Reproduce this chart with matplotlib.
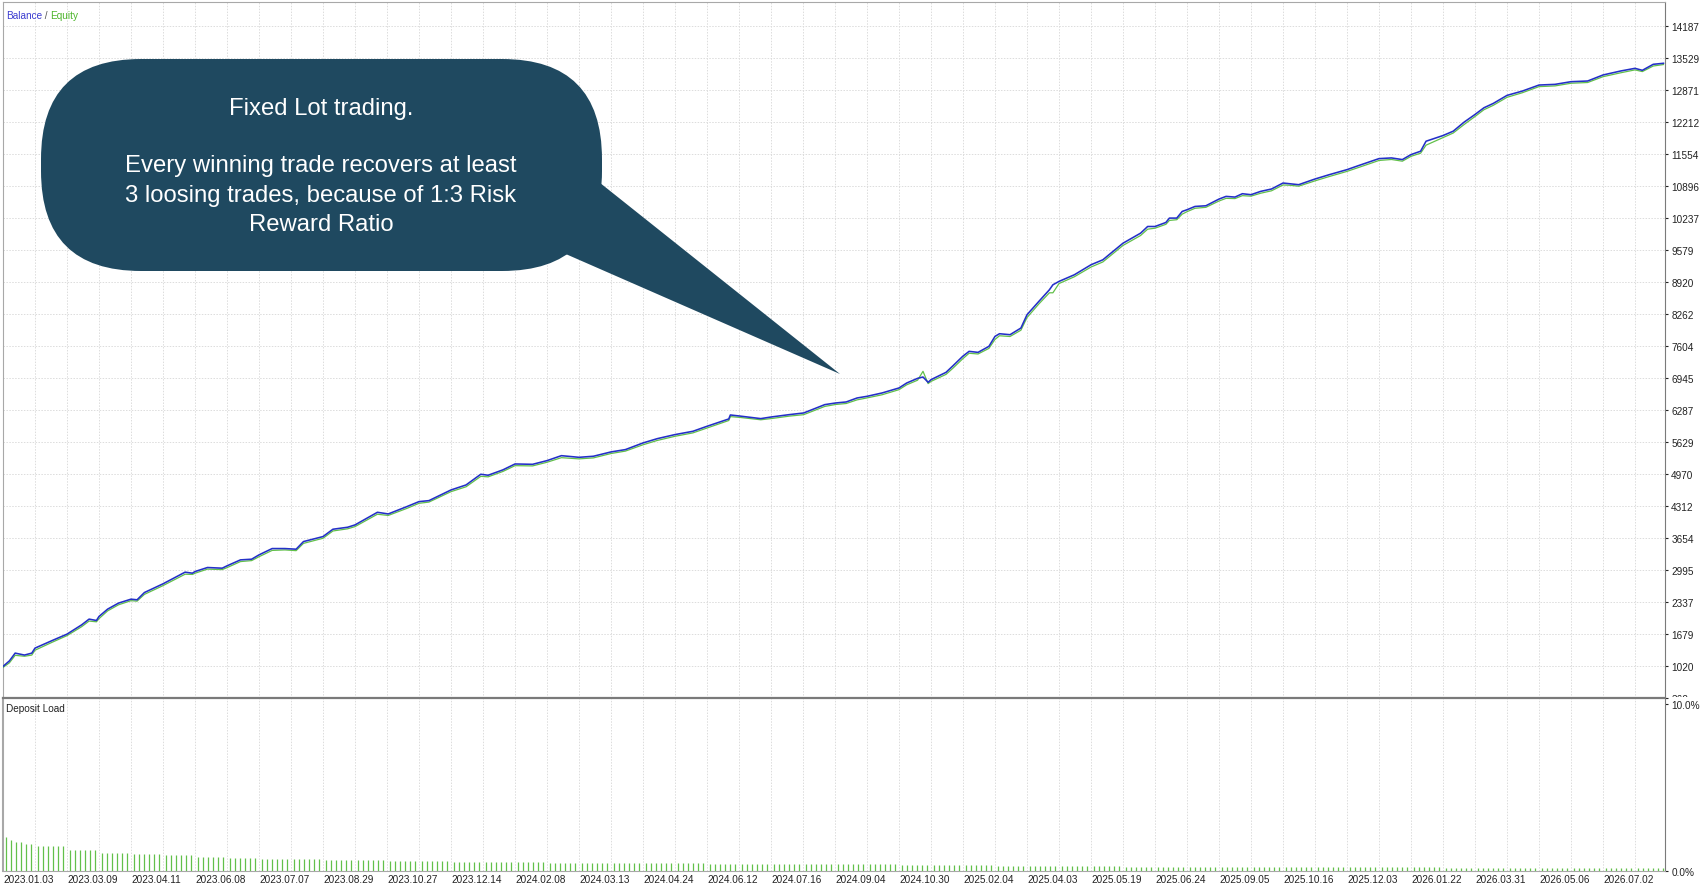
import numpy as np
import matplotlib
matplotlib.use('Agg')
import matplotlib.pyplot as plt
from matplotlib.patches import FancyBboxPatch, Polygon
from matplotlib.transforms import Bbox

plt.rcParams['font.family'] = ['Liberation Sans', 'DejaVu Sans']

# position along the x axis (1 unit = one grid column) and the curves
balance_pos = [0.00, 0.20, 0.38, 0.67, 0.90, 1.00, 1.54, 2.00, 2.46, 2.69, 2.92, 3.00, 3.27, 3.61,
               4.00, 4.19, 4.42, 5.00, 5.69, 5.92, 6.00, 6.39, 6.85, 7.00, 7.42, 7.77, 8.00, 8.41,
               8.81, 9.16, 9.39, 10.00, 10.31, 10.77, 11.00, 11.70, 12.04, 12.62, 13.00, 13.31, 13.78,
               14.00, 14.47, 14.93, 15.16, 15.62, 16.00, 16.55, 17.00, 17.45, 18.00, 18.45, 19.00,
               19.45, 20.00, 20.45, 21.00, 21.56, 22.00, 22.68, 22.73, 23.01, 23.68, 24.01, 24.57,
               25.02, 25.68, 26.02, 26.35, 26.69, 27.00, 27.47, 28.00, 28.24, 28.58, 28.75, 28.91,
               29.00, 29.47, 29.69, 29.99, 30.19, 30.47, 30.81, 31.00, 31.14, 31.47, 31.81, 32.00,
               32.37, 32.70, 32.81, 33.00, 33.48, 34.00, 34.37, 35.00, 35.55, 35.77, 36.00, 36.34,
               36.45, 36.68, 36.85, 37.00, 37.25, 37.59, 38.00, 38.22, 38.50, 38.73, 39.00, 39.30,
               39.64, 40.00, 40.20, 40.49, 41.00, 41.45, 42.00, 42.36, 43.00, 43.39, 43.73, 44.00,
               44.30, 44.47, 45.00, 45.32, 45.66, 46.00, 46.28, 46.57, 47.00, 47.48, 48.00, 48.50,
               49.00, 49.52, 50.00, 50.55, 51.00, 51.23, 51.57, 51.89]
balance = [1006, 1120, 1280, 1240, 1280, 1383, 1540, 1671, 1863, 1980, 1952, 2035, 2186, 2310,
           2391, 2378, 2528, 2707, 2947, 2926, 2960, 3043, 3029, 3077, 3200, 3214, 3303, 3433,
           3433, 3420, 3577, 3680, 3831, 3872, 3920, 4180, 4146, 4297, 4400, 4420, 4571,
           4640, 4743, 4963, 4943, 5053, 5175, 5168, 5244, 5346, 5312, 5334, 5423,
           5471, 5608, 5697, 5780, 5848, 5951, 6102, 6184, 6163, 6109, 6143, 6191,
           6225, 6397, 6431, 6452, 6534, 6568, 6637, 6740, 6842, 6938, 6966, 6856,
           6911, 7062, 7199, 7391, 7494, 7473, 7597, 7802, 7857, 7837, 7974, 8248,
           8522, 8762, 8865, 8934, 9071, 9277, 9379, 9721, 9928, 10065, 10065, 10148,
           10238, 10238, 10375, 10410, 10478, 10492, 10630, 10685, 10671, 10740, 10720, 10788,
           10837, 10960, 10947, 10926, 11043, 11133, 11236, 11319, 11463, 11477, 11443, 11546,
           11615, 11821, 11938, 12028, 12214, 12372, 12510, 12599, 12765, 12854, 12978, 12992,
           13047, 13061, 13185, 13267, 13322, 13281, 13405, 13426]
equity = [985, 1080, 1235, 1215, 1240, 1340, 1505, 1640, 1825, 1940, 1925, 1990, 2150, 2275,
          2360, 2350, 2490, 2670, 2905, 2900, 2925, 3010, 3000, 3040, 3165, 3185, 3265, 3395,
          3405, 3390, 3540, 3645, 3795, 3840, 3885, 4140, 4115, 4260, 4365, 4390, 4535,
          4605, 4705, 4920, 4910, 5020, 5140, 5135, 5210, 5305, 5280, 5300, 5390,
          5440, 5570, 5660, 5745, 5815, 5915, 6070, 6150, 6135, 6085, 6110, 6160,
          6190, 6360, 6400, 6420, 6495, 6535, 6600, 6705, 6805, 6900, 7083, 6830,
          6875, 7020, 7150, 7340, 7455, 7440, 7555, 7740, 7815, 7800, 7930, 8190,
          8470, 8700, 8700, 8890, 9030, 9230, 9335, 9675, 9880, 10010, 10030, 10110,
          10190, 10205, 10320, 10370, 10440, 10460, 10590, 10645, 10640, 10700, 10690, 10750,
          10800, 10920, 10915, 10895, 11005, 11095, 11200, 11280, 11425, 11445, 11410, 11510,
          11575, 11740, 11895, 11990, 12165, 12330, 12470, 12560, 12725, 12820, 12945, 12960,
          13015, 13030, 13150, 13230, 13290, 13255, 13370, 13400]

date_labels = ['2023.01.03', '2023.03.09', '2023.04.11', '2023.06.08', '2023.07.07', '2023.08.29',
               '2023.10.27', '2023.12.14', '2024.02.08', '2024.03.13', '2024.04.24', '2024.06.12',
               '2024.07.16', '2024.09.04', '2024.10.30', '2025.02.04', '2025.04.03', '2025.05.19',
               '2025.06.24', '2025.09.05', '2025.10.16', '2025.12.03', '2026.01.22', '2026.03.31',
               '2026.05.06', '2026.07.02']
y_ticks = [362, 1020, 1679, 2337, 2995, 3654, 4312, 4970, 5629, 6287, 6945, 7604, 8262, 8920,
           9579, 10237, 10896, 11554, 12212, 12871, 13529, 14187]

# deposit load in %, bars of the first grid column one by one, then one level per column
load_unit0 = [2.05, 1.85, 1.72, 1.72, 1.62, 1.62]
load_per_unit = [1.50, 1.25, 1.10, 1.03, 0.95, 0.85, 0.78, 0.73, 0.72, 0.68, 0.66, 0.63,
                 0.60, 0.57, 0.55, 0.53, 0.51, 0.50, 0.48, 0.47, 0.46, 0.45, 0.44, 0.43, 0.42,
                 0.41, 0.40, 0.38, 0.37, 0.35, 0.33, 0.31, 0.29, 0.28, 0.27, 0.26, 0.25, 0.25,
                 0.24, 0.24, 0.23, 0.23, 0.22, 0.22, 0.21, 0.21, 0.20, 0.20, 0.20, 0.19, 0.19]

BLUE = '#2430c8'
GREEN = '#62c04a'
GRID = '#dcdcdc'
GRID_LS = (0, (1.5, 1.5))
FS = 7.2
W, H = 1706, 887

fig = plt.figure(figsize=(W / 100, H / 100), dpi=100)


def px_axes(x0, y0, x1, y1):
    return fig.add_axes([x0 / W, 1 - y1 / H, (x1 - x0) / W, (y1 - y0) / H])


x_max = (1665 - 3) / 32.0

# Balance / Equity panel
ax = px_axes(3, 3, 1665, 698.7)
ax.plot(balance_pos, equity, color=GREEN, lw=0.9, zorder=3)
ax.plot(balance_pos, balance, color=BLUE, lw=1.15, zorder=4)
ax.set_xlim(0, x_max)
ax.set_ylim(362, 14688)
ax.set_xticks(range(52))
ax.yaxis.tick_right()
ax.set_yticks(y_ticks, [str(v) for v in y_ticks])
ax.tick_params(axis='x', length=0, labelbottom=False)
ax.tick_params(axis='y', length=2, pad=2.5, labelsize=FS, colors='#222222')
ax.grid(color=GRID, ls=GRID_LS, lw=0.7)
for side in ['left', 'top']:
    ax.spines[side].set_color('#a8a8a8')
ax.spines['right'].set_color('#7a7a7a')
ax.spines['bottom'].set_visible(False)
t0 = ax.yaxis.get_major_ticks()[0]
t0.label2.set_clip_box(Bbox.from_extents(0, H - 698, W, H))
t0.label2.set_clip_on(True)

lbl = ax.text(0.0018, 0.989, 'Balance', color='#3b3bd0', fontsize=FS, transform=ax.transAxes,
              va='top', ha='left')
lbl2 = ax.annotate(' / ', xy=(1, 0), xycoords=lbl, va='bottom', ha='left', fontsize=FS,
                   color='#555555')
ax.annotate('Equity', xy=(1, 0), xycoords=lbl2, va='bottom', ha='left', fontsize=FS,
            color='#4cb52a')

# Deposit load panel
bar_pos = []
bar_val = []
for j, v in enumerate(load_unit0):
    bar_pos.append(0.08 + 0.16 * j)
    bar_val.append(v)
for u, v in enumerate(load_per_unit, start=1):
    for j in range(6):
        p = u + 0.08 + 0.16 * j
        if p < x_max - 0.05:
            bar_pos.append(p)
            bar_val.append(v)

ax_dl = px_axes(3, 698.7, 1665, 872)
ax_dl.vlines(bar_pos, 0, bar_val, color=GREEN, lw=0.9, zorder=3)
ax_dl.set_xlim(0, x_max)
ax_dl.set_ylim(0, 10.4)
ax_dl.set_xticks(range(52), [date_labels[i // 2] if i % 2 == 0 else '' for i in range(52)])
for t in ax_dl.get_xticklabels():
    t.set_horizontalalignment('left')
ax_dl.yaxis.tick_right()
ax_dl.set_yticks([0, 10], ['0.0%', '10.0%'])
ax_dl.tick_params(axis='x', length=0, pad=2.5, labelsize=FS, colors='#222222')
ax_dl.tick_params(axis='y', length=2, pad=2.5, labelsize=FS, colors='#222222')
ax_dl.grid(axis='x', color=GRID, ls=GRID_LS, lw=0.7)
for side in ['left', 'bottom']:
    ax_dl.spines[side].set_color('#a8a8a8')
ax_dl.spines['left'].set_linewidth(1.5)
ax_dl.spines['right'].set_color('#7a7a7a')
ax_dl.spines['top'].set_color('#7a7a7a')
ax_dl.spines['top'].set_linewidth(1.6)
ax_dl.text(0.002, 0.94, 'Deposit Load', fontsize=FS, color='#222222', transform=ax_dl.transAxes,
           va='center', ha='left')

# callout bubble drawn in pixel space
ov = fig.add_axes([0, 0, 1, 1], zorder=10)
ov.set_xlim(0, W)
ov.set_ylim(H, 0)
ov.axis('off')
BUBBLE = '#1f4960'
ov.add_patch(FancyBboxPatch((41, 60), 561, 212, boxstyle='round,pad=0,rounding_size=100',
                            fc=BUBBLE, ec='none'))
ov.add_patch(Polygon([(520, 235), (840, 375), (570, 160)], closed=True, fc=BUBBLE, ec='none'))
txt = dict(color='white', fontsize=17.2, ha='center', va='center', family='Liberation Sans')
ov.text(321, 109, 'Fixed Lot trading.', **txt)
ov.text(321, 166, 'Every winning trade recovers at least', **txt)
ov.text(321, 196, '3 loosing trades, because of 1:3 Risk', **txt)
ov.text(321, 225, 'Reward Ratio', **txt)

fig.savefig('out.png', dpi=100)
